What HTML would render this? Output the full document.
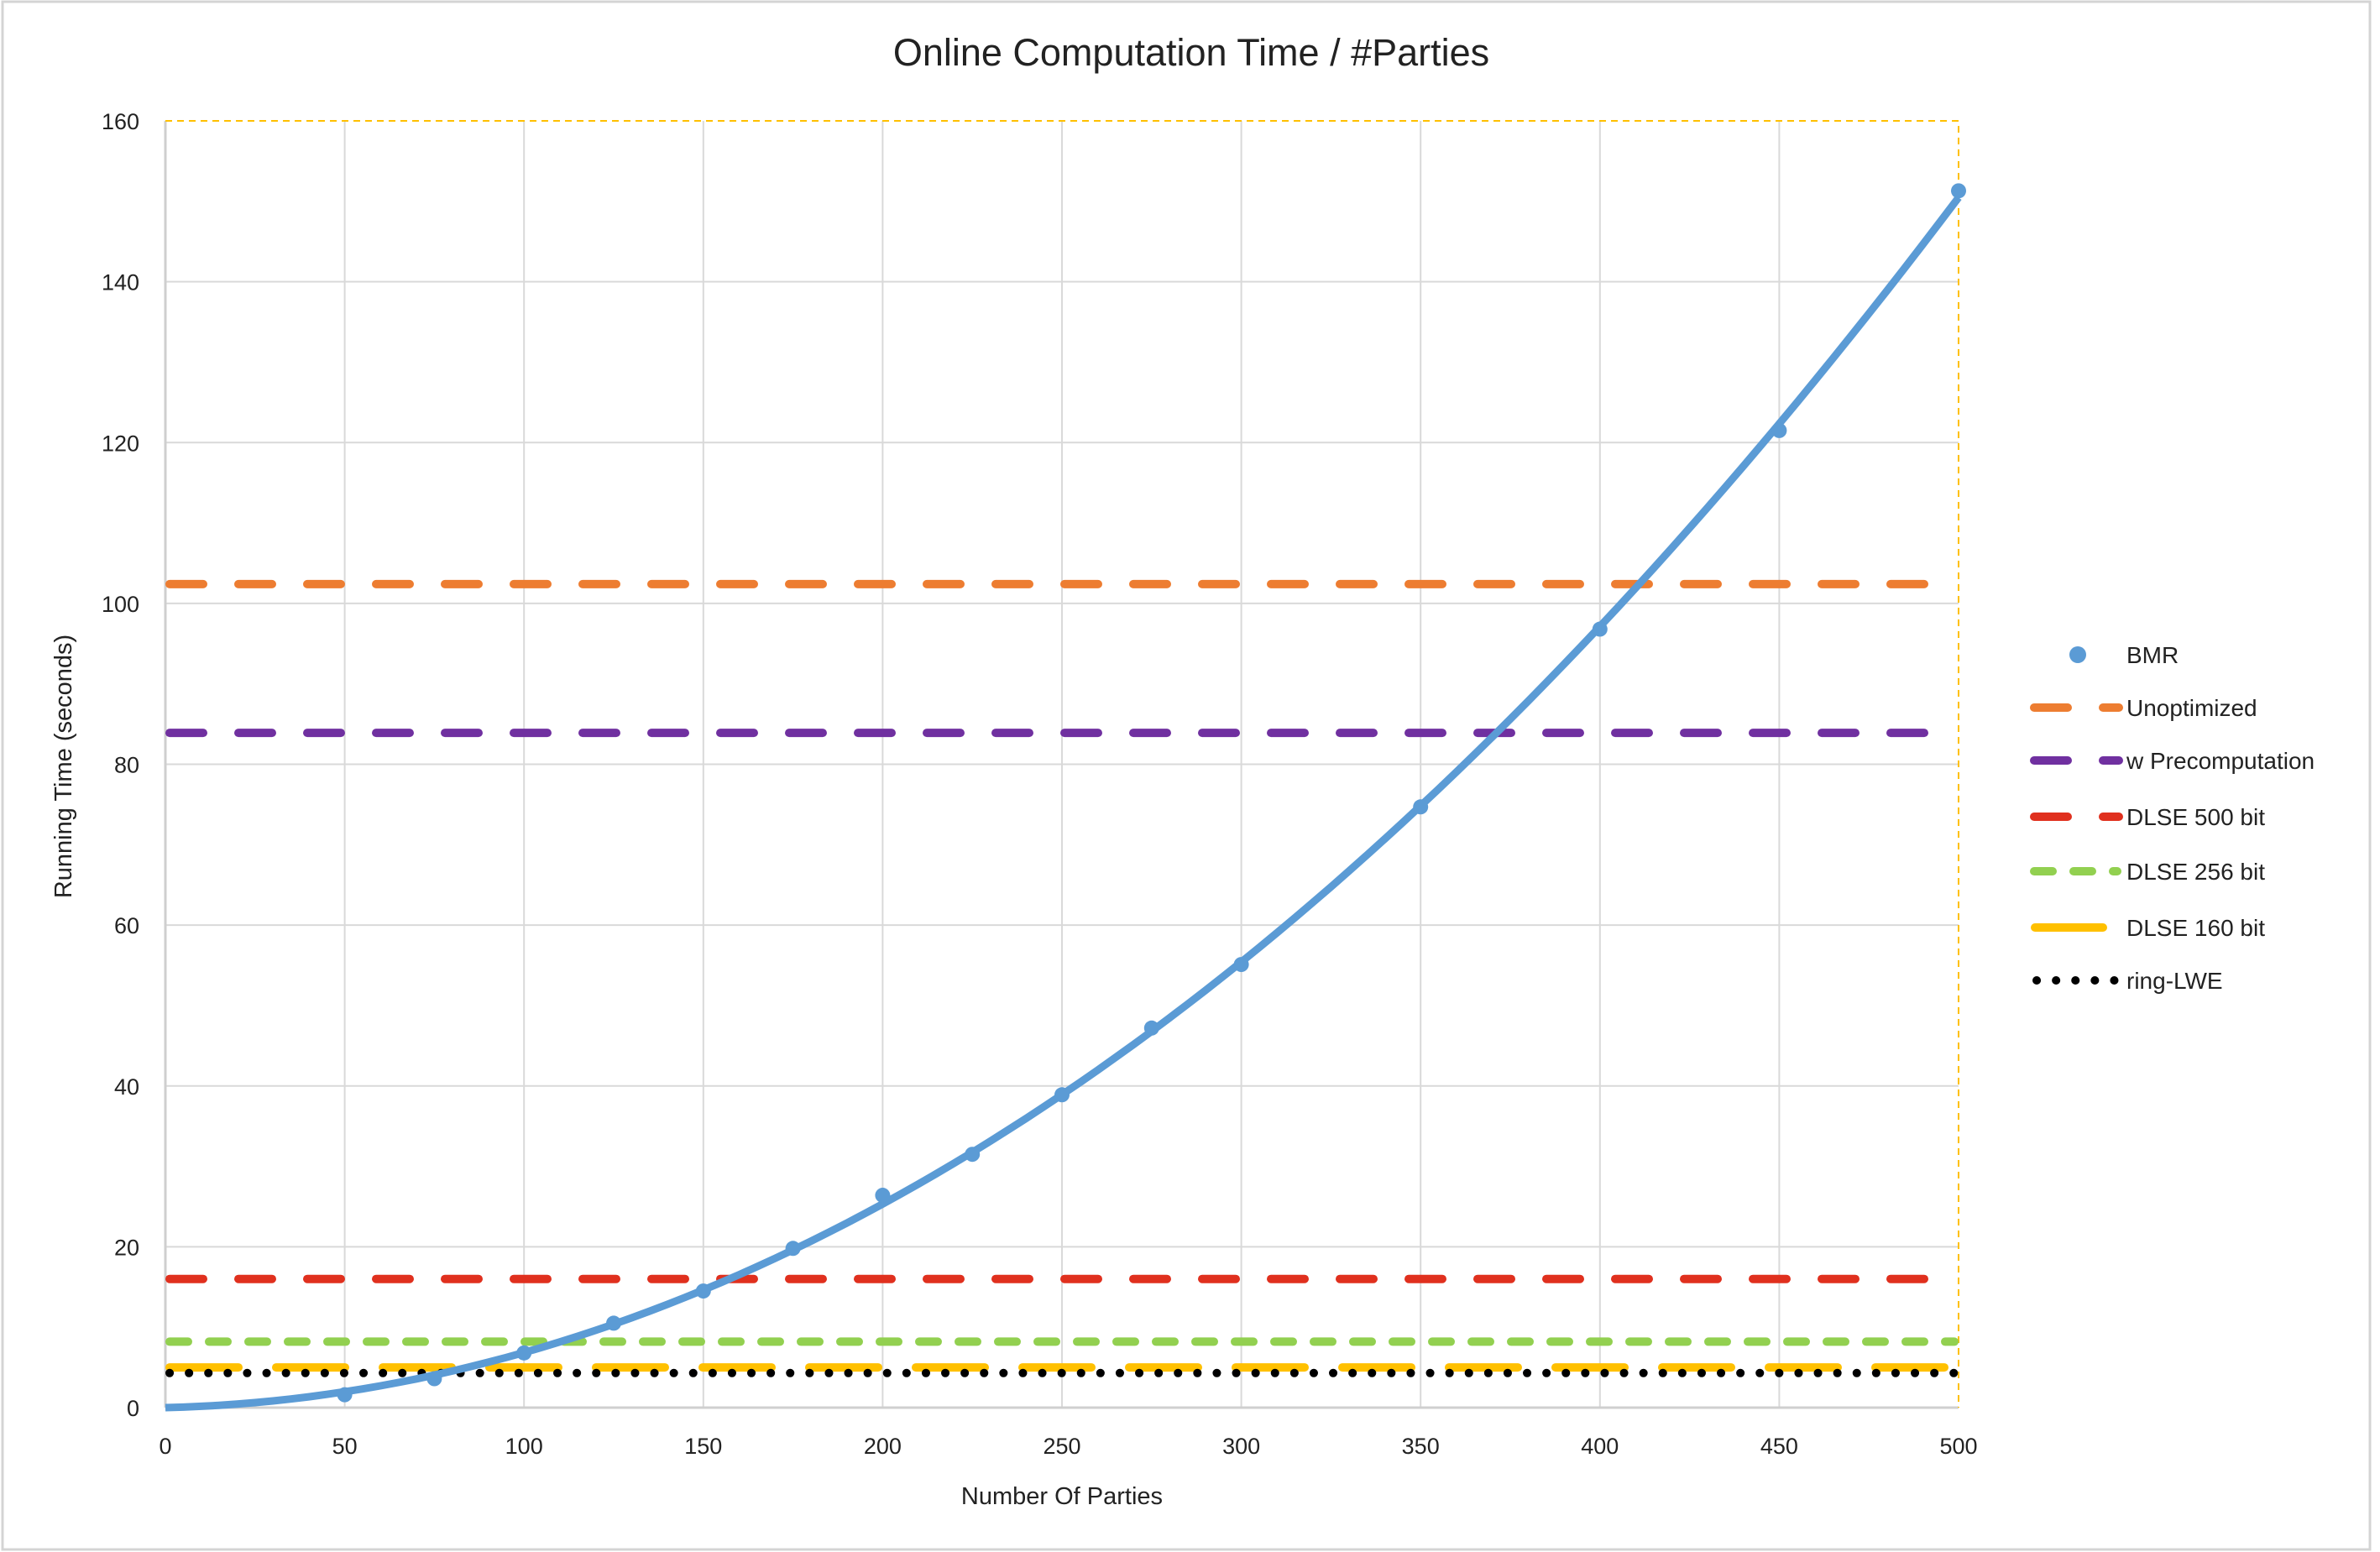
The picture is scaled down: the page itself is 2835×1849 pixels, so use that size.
<!DOCTYPE html>
<html><head><meta charset="utf-8"><style>
html,body{margin:0;padding:0;background:#fff;}
svg{display:block;font-family:"Liberation Sans","DejaVu Sans",sans-serif;}
</style></head><body>
<svg id="chart" width="2835" height="1849" viewBox="0 0 2835 1849" xmlns="http://www.w3.org/2000/svg">
<rect x="3" y="2" width="2820" height="1844" fill="#fff" stroke="#d4d4d4" stroke-width="3"/>
<text x="1419" y="78" font-size="45" text-anchor="middle" fill="#222">Online Computation Time / #Parties</text>
<g id="grid"></g>
<g id="axes"></g>
<g id="series"></g>
<text x="1265" y="1792" font-size="29" text-anchor="middle" fill="#222">Number  Of Parties</text>
<text transform="translate(85,913) rotate(-90)" font-size="29" text-anchor="middle" fill="#222">Running Time (seconds)</text>
<g id="legend"></g>
</svg>
<script>
const xTicks = [0,50,100,150,200,250,300,350,400,450,500];
const yTicks = [0,20,40,60,80,100,120,140,160];
const bmrX = [50,75,100,125,150,175,200,225,250,275,300,350,400,450,500];
const bmrY = [1.6,3.6,6.8,10.5,14.5,19.8,26.4,31.5,38.9,47.2,55.1,74.7,96.8,121.5,151.3];
const seriesNames = ["Unoptimized","w Precomputation","DLSE 500 bit","DLSE 256 bit","DLSE 160 bit","ring-LWE"];
const seriesValues = [102.4,83.9,16.0,8.2,5.0,4.3];

const L=197,R=2333,T=144,B=1677;
const xs=v=>L+(v-0)/500*(R-L);
const ys=v=>B-(v-0)/160*(B-T);
const NS="http://www.w3.org/2000/svg";
function mk(tag,attrs,parent){const e=document.createElementNS(NS,tag);for(const k in attrs)e.setAttribute(k,attrs[k]);parent.appendChild(e);return e;}
const grid=document.getElementById('grid'),axes=document.getElementById('axes'),ser=document.getElementById('series'),leg=document.getElementById('legend');

xTicks.forEach(t=>{
  if(t>0&&t<500){const g=mk('line',{x1:xs(t),x2:xs(t),y1:T,y2:B,stroke:'#d9d9d9','stroke-width':2},grid);
  
  }
  const tx=mk('text',{x:xs(t),y:1732,'font-size':27,'text-anchor':'middle',fill:'#222'},axes);tx.textContent=t;
  
  
});
yTicks.forEach(t=>{
  if(t>0&&t<160){const g=mk('line',{x1:L,x2:R,y1:ys(t),y2:ys(t),stroke:'#d9d9d9','stroke-width':2},grid);
  
  }
  const tx=mk('text',{x:166,y:ys(t)+10,'font-size':27,'text-anchor':'end',fill:'#222'},axes);tx.textContent=t;
  
  
});
let a=mk('line',{x1:L,x2:L,y1:T,y2:B,stroke:'#cfcfcf','stroke-width':3},axes);


a=mk('line',{x1:L,x2:R,y1:B,y2:B,stroke:'#cfcfcf','stroke-width':3},axes);


a=mk('path',{d:`M${L},${T}H${R}V${B}`,fill:'none',stroke:'#ffc000','stroke-width':2,'stroke-dasharray':'8 6'},axes);



const styles=[
 {c:'#ed7d31',d:'40 42',w:10,cap:'round'},
 {c:'#7030a0',d:'40 42',w:10,cap:'round'},
 {c:'#e0301e',d:'40 42',w:10,cap:'round'},
 {c:'#92d050',d:'22 25',w:10,cap:'round'},
 {c:'#ffc000',d:'82 45',w:10,cap:'round'},
 {c:'#000',d:'0.1 23',w:10,cap:'round'}
];
seriesValues.forEach((v,i)=>{
  const s=styles[i];
  const ln=mk('line',{x1:L+5,x2:R-5,y1:ys(v),y2:ys(v),stroke:s.c,'stroke-width':s.w,'stroke-dasharray':s.d,'stroke-linecap':s.cap},ser);
  
  
});

let s4=0,s3=0,s2=0,sy2=0,sy1=0;
bmrX.forEach((x,i)=>{const y=bmrY[i];s4+=x**4;s3+=x**3;s2+=x*x;sy2+=y*x*x;sy1+=y*x;});
const det=s4*s2-s3*s3, qa=(sy2*s2-s3*sy1)/det, qb=(s4*sy1-s3*sy2)/det;
let d='';
for(let x=0;x<=500;x+=5){const y=Math.max(0,qa*x*x+qb*x);d+=(x?'L':'M')+xs(x).toFixed(1)+','+ys(y).toFixed(1);}
const tl=mk('path',{d:d,fill:'none',stroke:'#5b9bd5','stroke-width':9,'stroke-linejoin':'round'},ser);


bmrX.forEach((x,i)=>{
  const p=mk('circle',{cx:xs(x),cy:ys(bmrY[i]),r:9,fill:'#5b9bd5'},ser);
  
  
});

const rowY=[780,843,906,973,1038,1105,1168];
let c=mk('circle',{cx:2475,cy:rowY[0],r:10,fill:'#5b9bd5'},leg);


let t=mk('text',{x:2533,y:rowY[0]+10,'font-size':28,fill:'#222'},leg);t.textContent='BMR';


seriesNames.forEach((n,i)=>{
  const s=styles[i],y=rowY[i+1];
  const ln=mk('line',{x1:2424,x2:2522,y1:y,y2:y,stroke:s.c,'stroke-width':s.w,'stroke-linecap':'round'},leg);
  if(i===4){ln.setAttribute('x2','2505');}
  else if(i===3){ln.setAttribute('stroke-dasharray','22 25');ln.setAttribute('x1','2423');ln.setAttribute('x2','2522');}
  else if(i===5){ln.setAttribute('stroke-dasharray','0.1 23');ln.setAttribute('x1','2426');ln.setAttribute('x2','2519');}
  else {ln.setAttribute('stroke-dasharray','40 42');ln.setAttribute('x1','2423');ln.setAttribute('x2','2524');}
  
  
  const tx=mk('text',{x:2533,y:y+10,'font-size':28,fill:'#222'},leg);tx.textContent=n;
  
  
});
</script>
</body></html>
